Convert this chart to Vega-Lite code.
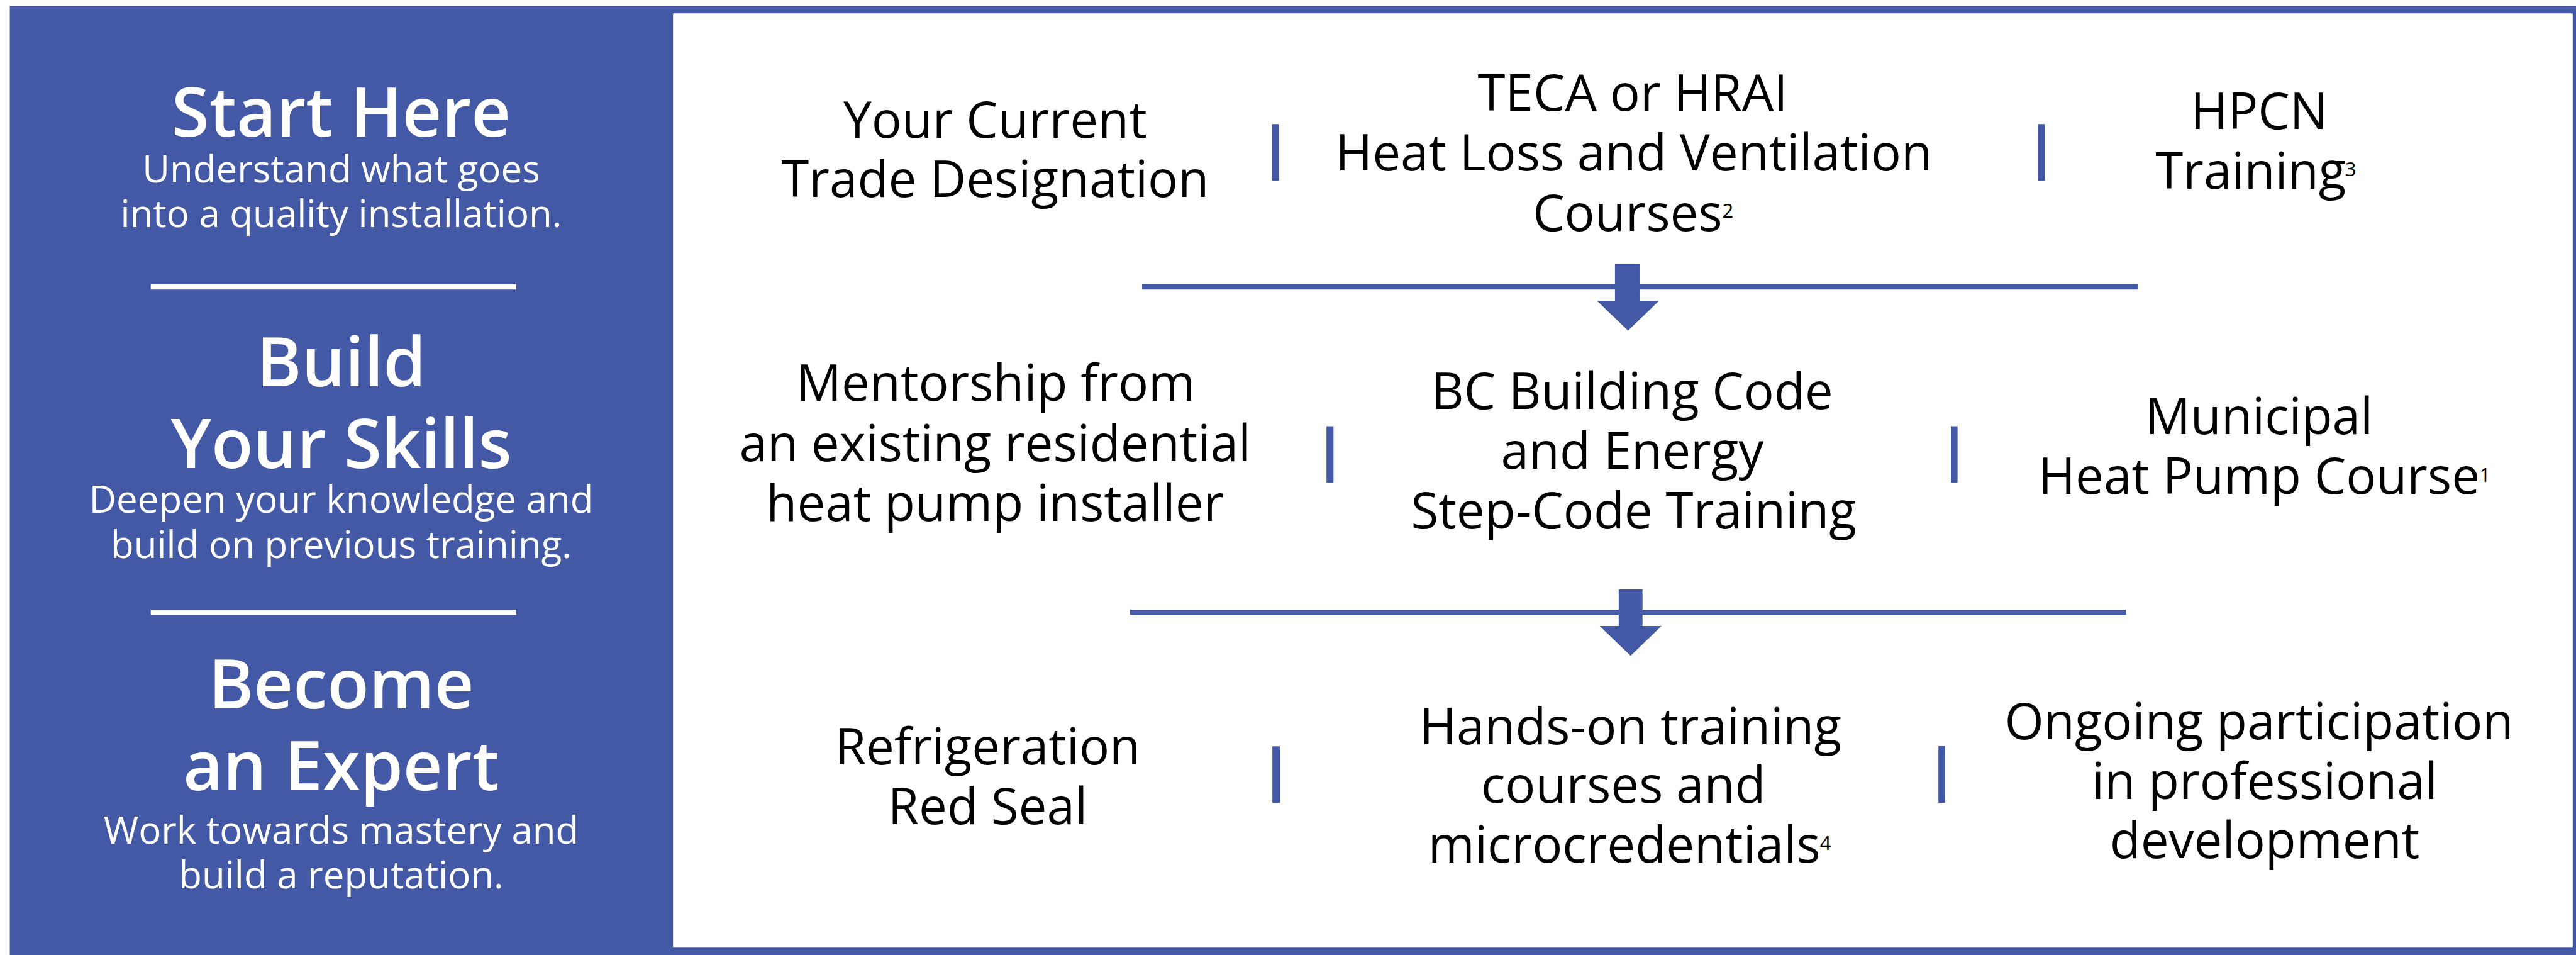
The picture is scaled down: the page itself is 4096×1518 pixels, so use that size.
{
  "$schema": "https://vega.github.io/schema/vega-lite/v6.json",
  "width": 4096,
  "height": 1518,
  "padding": 0,
  "autosize": {"type": "none"},
  "background": "white",
  "config": {"view": {"stroke": null}, "text": {"font": "Open Sans"}},
  "datasets": {
    "shapes": [
      {"kind": "frame", "x": 21, "x2": 5519, "y": 12, "y2": 2046},
      {"kind": "panel", "x": 1442, "x2": 5512, "y": 28.5, "y2": 2030},
      {"kind": "sep", "x": 323, "x2": 1106, "y": 609, "y2": 620.5},
      {"kind": "sep", "x": 323, "x2": 1106, "y": 1306, "y2": 1317},
      {"kind": "blue", "x": 2447, "x2": 4581, "y": 609, "y2": 620.5},
      {"kind": "blue", "x": 2421, "x2": 4555, "y": 1306, "y2": 1317},
      {"kind": "blue", "x": 2725, "x2": 2740, "y": 266, "y2": 387},
      {"kind": "blue", "x": 4366, "x2": 4381, "y": 266, "y2": 387},
      {"kind": "blue", "x": 2842, "x2": 2857, "y": 913, "y2": 1034},
      {"kind": "blue", "x": 4180, "x2": 4194, "y": 913, "y2": 1034},
      {"kind": "blue", "x": 2726, "x2": 2742, "y": 1599, "y2": 1720},
      {"kind": "blue", "x": 4153, "x2": 4167, "y": 1598, "y2": 1720},
      {"kind": "blue", "x": 3460, "x2": 3514, "y": 566, "y2": 646},
      {"kind": "blue", "x": 3468, "x2": 3519, "y": 1263, "y2": 1342}
    ],
    "heads": [
      {"x": 3488, "y": 676.5},
      {"x": 3493.5, "y": 1373}
    ],
    "texts": [
      {"kind": "heading", "x": 731, "y": 292, "text": "Start Here"},
      {"kind": "sub", "x": 731, "y": 391.5, "text": "Understand what goes"},
      {"kind": "sub", "x": 731, "y": 487, "text": "into a quality installation."},
      {"kind": "heading", "x": 731, "y": 828, "text": "Build"},
      {"kind": "heading", "x": 731, "y": 1003, "text": "Your Skills"},
      {"kind": "sub", "x": 731, "y": 1099, "text": "Deepen your knowledge and"},
      {"kind": "sub", "x": 731, "y": 1195, "text": "build on previous training."},
      {"kind": "heading", "x": 731, "y": 1517, "text": "Become"},
      {"kind": "heading", "x": 731, "y": 1693, "text": "an Expert"},
      {"kind": "sub", "x": 731, "y": 1807, "text": "Work towards mastery and"},
      {"kind": "sub", "x": 731, "y": 1903, "text": "build a reputation."},
      {"kind": "body", "x": 2132, "y": 295, "text": "Your Current"},
      {"kind": "body", "x": 2132, "y": 422, "text": "Trade Designation"},
      {"kind": "body", "x": 3498, "y": 237, "text": "TECA or HRAI"},
      {"kind": "body", "x": 3500, "y": 365, "text": "Heat Loss and Ventilation"},
      {"kind": "body", "x": 3487, "y": 494, "text": "Courses"},
      {"kind": "sup", "x": 3690, "y": 466, "text": "2"},
      {"kind": "body", "x": 4840, "y": 276, "text": "HPCN"},
      {"kind": "body", "x": 4822, "y": 404, "text": "Training"},
      {"kind": "sup", "x": 5024, "y": 377, "text": "3"},
      {"kind": "body", "x": 2133, "y": 859, "text": "Mentorship from"},
      {"kind": "body", "x": 2132, "y": 988, "text": "an existing residential"},
      {"kind": "body", "x": 2132, "y": 1116, "text": "heat pump installer"},
      {"kind": "body", "x": 3497, "y": 876, "text": "BC Building Code"},
      {"kind": "body", "x": 3497, "y": 1004, "text": "and Energy"},
      {"kind": "body", "x": 3500, "y": 1132, "text": "Step-Code Training"},
      {"kind": "body", "x": 4840, "y": 930, "text": "Municipal"},
      {"kind": "body", "x": 4840, "y": 1058, "text": "Heat Pump Course"},
      {"kind": "sup", "x": 5312, "y": 1033, "text": "1"},
      {"kind": "body", "x": 2116, "y": 1637, "text": "Refrigeration"},
      {"kind": "body", "x": 2116, "y": 1765, "text": "Red Seal"},
      {"kind": "body", "x": 3493, "y": 1594, "text": "Hands-on training"},
      {"kind": "body", "x": 3478, "y": 1720, "text": "courses and"},
      {"kind": "body", "x": 3480, "y": 1848, "text": "microcredentials"},
      {"kind": "sup", "x": 3899, "y": 1821, "text": "4"},
      {"kind": "body", "x": 4840, "y": 1584, "text": "Ongoing participation"},
      {"kind": "body", "x": 4852, "y": 1711.5, "text": "in professional"},
      {"kind": "body", "x": 4852, "y": 1839, "text": "development"}
    ]
  },
  "layer": [
    {
      "data": {"name": "shapes"},
      "mark": {"type": "rect"},
      "encoding": {
        "x": {"field": "x", "type": "quantitative", "axis": null, "scale": {"domain": [0, 5519], "nice": false, "zero": false}},
        "x2": {"field": "x2"},
        "y": {"field": "y", "type": "quantitative", "axis": null, "scale": {"domain": [0, 2046], "nice": false, "zero": false, "reverse": true}},
        "y2": {"field": "y2"},
        "color": {"field": "kind", "type": "nominal", "legend": null, "scale": {"domain": ["frame", "panel", "sep", "blue"], "range": ["#4459A6", "#FFFFFF", "#FFFFFF", "#4459A6"]}}
      }
    },
    {
      "data": {"name": "heads"},
      "mark": {"type": "point", "shape": "M-1,-0.48L1,-0.48L0,0.48Z", "filled": true, "fill": "#4459A6", "stroke": null, "opacity": 1, "size": 9700},
      "encoding": {
        "x": {"field": "x", "type": "quantitative", "axis": null, "scale": {"domain": [0, 5519], "nice": false, "zero": false}},
        "y": {"field": "y", "type": "quantitative", "axis": null, "scale": {"domain": [0, 2046], "nice": false, "zero": false, "reverse": true}}
      }
    },
    {
      "data": {"name": "texts"},
      "transform": [{"filter": "datum.kind === 'heading'"}],
      "mark": {"type": "text", "align": "center", "baseline": "alphabetic", "fontSize": 109, "fontWeight": 600, "color": "#FFFFFF"},
      "encoding": {
        "x": {"field": "x", "type": "quantitative", "axis": null, "scale": {"domain": [0, 5519], "nice": false, "zero": false}},
        "y": {"field": "y", "type": "quantitative", "axis": null, "scale": {"domain": [0, 2046], "nice": false, "zero": false, "reverse": true}},
        "text": {"field": "text"}
      }
    },
    {
      "data": {"name": "texts"},
      "transform": [{"filter": "datum.kind === 'sub'"}],
      "mark": {"type": "text", "align": "center", "baseline": "alphabetic", "fontSize": 60, "color": "#FFFFFF"},
      "encoding": {
        "x": {"field": "x", "type": "quantitative", "axis": null, "scale": {"domain": [0, 5519], "nice": false, "zero": false}},
        "y": {"field": "y", "type": "quantitative", "axis": null, "scale": {"domain": [0, 2046], "nice": false, "zero": false, "reverse": true}},
        "text": {"field": "text"}
      }
    },
    {
      "data": {"name": "texts"},
      "transform": [{"filter": "datum.kind === 'body'"}],
      "mark": {"type": "text", "align": "center", "baseline": "alphabetic", "fontSize": 80, "color": "#000000"},
      "encoding": {
        "x": {"field": "x", "type": "quantitative", "axis": null, "scale": {"domain": [0, 5519], "nice": false, "zero": false}},
        "y": {"field": "y", "type": "quantitative", "axis": null, "scale": {"domain": [0, 2046], "nice": false, "zero": false, "reverse": true}},
        "text": {"field": "text"}
      }
    },
    {
      "data": {"name": "texts"},
      "transform": [{"filter": "datum.kind === 'sup'"}],
      "mark": {"type": "text", "align": "left", "baseline": "alphabetic", "fontSize": 31, "color": "#000000"},
      "encoding": {
        "x": {"field": "x", "type": "quantitative", "axis": null, "scale": {"domain": [0, 5519], "nice": false, "zero": false}},
        "y": {"field": "y", "type": "quantitative", "axis": null, "scale": {"domain": [0, 2046], "nice": false, "zero": false, "reverse": true}},
        "text": {"field": "text"}
      }
    }
  ]
}
